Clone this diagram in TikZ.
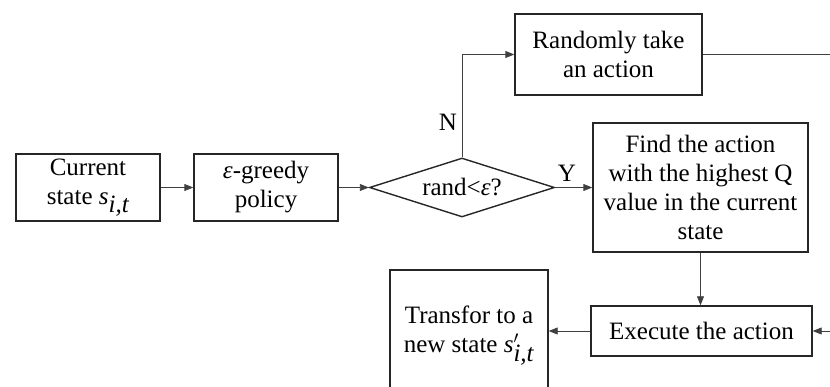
\documentclass[tikz,border=0pt]{standalone}
\usepackage{fontspec}
\setmainfont{Liberation Serif}
\usetikzlibrary{shapes.geometric,arrows.meta}
\begin{document}
\begin{tikzpicture}[x=1pt,y=-1pt,
  box/.style={draw=black!85,line width=1.4pt,align=center,inner sep=0pt,
    font=\fontsize{25}{29}\selectfont},
  dia/.style={draw=black!85,line width=1.4pt,diamond,aspect=3.1,inner sep=0pt,
    font=\fontsize{25}{29}\selectfont},
  conn/.style={draw=black!75,line width=0.9pt},
  arr/.style={conn,-{Triangle[length=9pt,width=7pt]}},
  lbl/.style={font=\fontsize{25}{29}\selectfont,inner sep=0pt}]
\clip (0,0) rectangle (830,387);
\useasboundingbox (0,0) rectangle (830,387);
\node[box,minimum width=144pt,minimum height=67pt] (cur) at (88,187.5)
  {Current\\state $\textit{s}_{\textit{i,t}}$};
\node[box,minimum width=144pt,minimum height=67pt] (greedy) at (266,187.5)
  {\textit{ε}-greedy\\policy};
\node[dia,minimum width=185pt,minimum height=59pt] (dec) at (462,187.5)
  {rand<\textit{ε}?};
\node[box,minimum width=187pt,minimum height=81pt] (rand) at (608.5,54.5)
  {Randomly take\\an action};
\node[box,minimum width=215pt,minimum height=129pt] (find) at (700.5,187.5)
  {Find the action\\with the highest Q\\value in the current\\state};
\node[box,minimum width=221pt,minimum height=50pt] (exec) at (701.5,331)
  {Execute the action};
\node[box,minimum width=158pt,minimum height=132pt] (trans) at (469,336)
  {Transfor to a\\new state $\textit{s}'_{\textit{i,t}}$};
\coordinate (re1) at (832,54.5);
\coordinate (re2) at (832,331);
\draw[arr] (cur) -- (greedy);
\draw[arr] (greedy) -- (dec);
\draw[arr] (dec.north) |- (rand.west);
\draw[arr] (dec) -- (find);
\draw[conn] (rand.east) -- (re1);
\draw[arr] (find.south) -- (find.south |- exec.north);
\draw[arr] (re2) -- (exec.east);
\draw[arr] (exec.west) -- (exec.west -| trans.east);
\node[lbl] (n) at (448,122) {N};
\node[lbl] (y) at (567,173) {Y};
\end{tikzpicture}
\end{document}
